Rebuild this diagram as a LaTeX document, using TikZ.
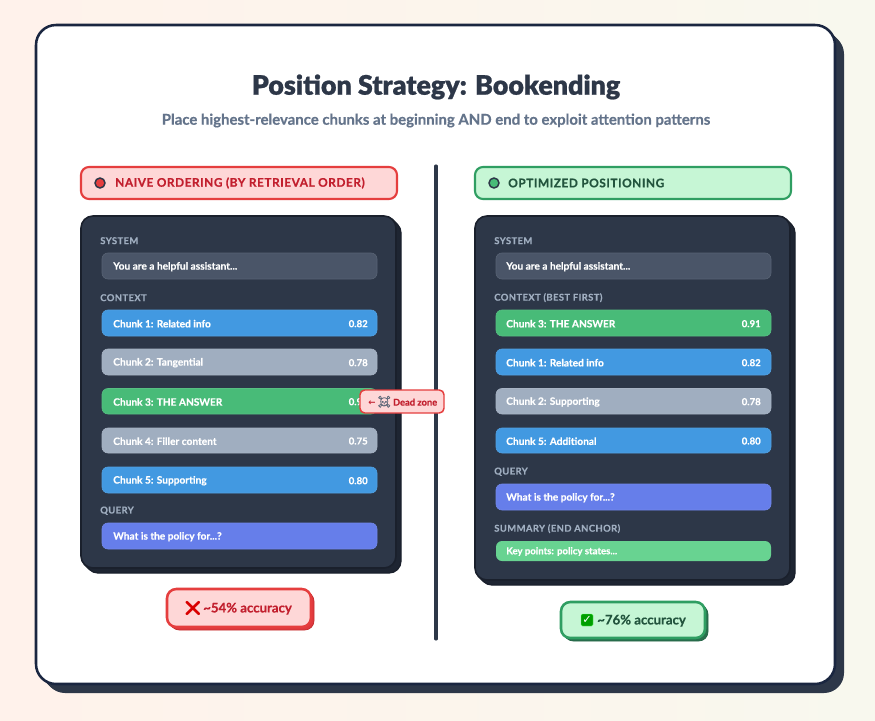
\documentclass[tikz,border=0pt]{standalone}
\usepackage{fontspec}
\setmainfont{Lato}
\newfontfamily\blackfont[FakeBold=0.8]{Lato Black}
\newfontfamily\heavyfont[FakeBold=0.45]{Lato Bold}
\newfontfamily\spacedfont[LetterSpace=4.5,FakeBold=0.6]{Lato Bold}
\newfontfamily\capsfont[LetterSpace=4,FakeBold=0.2]{Lato Bold}
\newfontfamily\emojifont{Noto Emoji}
\newfontfamily\skullfont[FakeBold=1]{Noto Emoji}
\newfontfamily\symfont{DejaVu Sans Bold}
\definecolor{ink}{HTML}{2D3748}
\definecolor{inkdark}{HTML}{1A202C}
\definecolor{cardedge}{HTML}{1A2640}
\definecolor{subgrey}{HTML}{64748B}
\definecolor{redfill}{HTML}{FED7D7}
\definecolor{redline}{HTML}{E53E3E}
\definecolor{redtext}{HTML}{C53030}
\definecolor{titlered}{HTML}{C21F2E}
\definecolor{redband}{HTML}{E0383E}
\definecolor{greenfill}{HTML}{C6F6D5}
\definecolor{greenline}{HTML}{2F9E62}
\definecolor{greendark}{HTML}{276749}
\definecolor{greentext}{HTML}{22543D}
\definecolor{rowsys}{HTML}{4A5568}
\definecolor{rowblue}{HTML}{4299E1}
\definecolor{rowgrey}{HTML}{A0AEC0}
\definecolor{rowgreen}{HTML}{48BB78}
\definecolor{rowindigo}{HTML}{667EEA}
\definecolor{rowmint}{HTML}{68D391}
\definecolor{bgleft}{HTML}{FFF2EB}
\definecolor{bgright}{HTML}{F8F8EE}
\definecolor{panelband}{HTML}{1E2532}
\tikzset{
  x=0.75pt,y=-0.75pt,
  boxbase/.style={inner sep=0pt,outer sep=0pt,rectangle},
  rowbox/.style={boxbase,rounded corners=4.5pt},
  rowtext/.style={inner sep=0pt,anchor=west,text=white,font=\fontsize{7.6}{9.6}\heavyfont},
  scoretext/.style={inner sep=0pt,anchor=east,text=white,font=\fontsize{7.2}{9}\heavyfont},
  seclabel/.style={inner sep=0pt,anchor=west,text=rowgrey,font=\fontsize{7.1}{9}\capsfont},
  badgetext/.style={inner sep=0pt,anchor=west,font=\fontsize{8.9}{11}\spacedfont},
  acctext/.style={inner sep=0pt,anchor=west,font=\fontsize{9.9}{12}\heavyfont},
  panelmain/.style={boxbase,fill=ink,draw=inkdark,line width=1.2pt,rounded corners=9pt},
  panelshadow/.style={boxbase,fill=panelband,draw=inkdark,line width=1pt,rounded corners=9pt},
}
% name, style, x1, y1, x2, y2 (pixels)
\newcommand{\bx}[6]{%
  \pgfmathsetmacro{\bw}{((#5)-(#3))*0.75}%
  \pgfmathsetmacro{\bh}{((#6)-(#4))*0.75}%
  \node[#2,minimum width=\bw pt,minimum height=\bh pt] (#1) at ({((#3)+(#5))/2},{((#4)+(#6))/2}) {};}
% stacked hard shadow: name, style, x1, y1, x2, y2, offset
\newcommand{\shadowstack}[7]{%
  \foreach \sk in {1,...,#7}{%
    \bx{#1\sk}{#2}{#3+\sk}{#4+\sk}{#5+\sk}{#6+\sk}}}
% name, x1, y1, y2, fill, text, textx
\newcommand{\rowb}[7]{%
  \bx{#1}{rowbox,fill=#5,draw=#5!92!white,line width=0.5pt}{#2}{#3}{#2+275}{#4}
  \node[rowtext] (#1t) at (#7,{(#3+#4)/2+0.7}) {#6};}
\newcommand{\score}[3]{\node[scoretext] (#1) at (#2) {#3};}
\begin{document}
\begin{tikzpicture}
\useasboundingbox (0,0) rectangle (875,721);
\shade[left color=bgleft,right color=bgright,middle color=bgleft!55!bgright] (0,0) rectangle (875,721);

% card
\shadowstack{cardshadow}{boxbase,fill=ink,rounded corners=15pt}{36}{25}{835}{684}{9}
\bx{card}{boxbase,fill=white,draw=cardedge,line width=1.9pt,rounded corners=15pt}{36}{25}{835}{684}

\node[inner sep=0pt,text=ink,font=\fontsize{20.1}{24}\blackfont] (title) at (436,87) {Position Strategy: Bookending};
\node[inner sep=0pt,text=subgrey,font=\fontsize{11.2}{13}\heavyfont] (subtitle) at (436,120.5) {Place highest-relevance chunks at beginning AND end to exploit attention patterns};

% divider
\coordinate (divtop) at (436,166);
\coordinate (divbot) at (436,639);
\draw[ink,line width=2.3pt,line cap=round] (divtop) -- (divbot);

% left header
\bx{lhead}{boxbase,fill=redfill,draw=redline,line width=1.6pt,rounded corners=6pt}{81}{167}{397}{199}
\node[circle,inner sep=0pt,minimum size=7.5pt,fill=redline,draw=ink,line width=1.1pt] (ldot) at (100,183) {};
\node[badgetext,text=titlered] (lheadt) at (115,183) {NAIVE ORDERING (BY RETRIEVAL ORDER)};

% left panel
\shadowstack{lpanels}{panelshadow}{81}{216}{396}{568}{5}
\bx{lpanel}{panelmain}{81}{216}{396}{568}
\node[seclabel] (lsys) at (100,240.7) {SYSTEM};
\rowb{ls}{102}{253}{279}{rowsys}{You are a helpful assistant...}{113}
\node[seclabel] (lctx) at (100,297.7) {CONTEXT};
\rowb{l1}{102}{310}{336}{rowblue}{Chunk 1: Related info}{113}
\score{l1s}{368,323.7}{0.82}
\rowb{l2}{102}{349}{375}{rowgrey}{Chunk 2: Tangential}{113}
\score{l2s}{368,362.7}{0.78}
\rowb{l3}{102}{388.5}{414}{rowgreen}{Chunk 3: THE ANSWER}{113}
\score{l3s}{368,401.7}{0.91}
\rowb{l4}{102}{428}{453}{rowgrey}{Chunk 4: Filler content}{113}
\score{l4s}{368,441}{0.75}
\rowb{l5}{102}{467}{493}{rowblue}{Chunk 5: Supporting}{113}
\score{l5s}{368,480.7}{0.80}
\node[seclabel] (lq) at (100,510.7) {QUERY};
\rowb{lqr}{102}{523}{549}{rowindigo}{What is the policy for...?}{113}

% dead zone
\bx{dead}{boxbase,fill=redfill,draw=redline,line width=1.1pt,rounded corners=3.5pt}{360}{390}{444}{413}
\node[inner sep=0pt,anchor=west,text=titlered,font=\fontsize{7}{9}\heavyfont] (deadt) at (368,401.7) {{\symfont\fontsize{6.5}{9}\selectfont ←}\,{\skullfont\color{rowsys!90}\fontsize{8.5}{9}\selectfont ☠}\,Dead zone};

% left accuracy
\shadowstack{laccs}{boxbase,fill=redband,draw=redtext,line width=0.6pt,rounded corners=7pt}{167}{589}{311}{627}{3}
\bx{lacc}{boxbase,fill=redfill,draw=redline,line width=1.9pt,rounded corners=7pt}{167}{589}{311}{627}
\node[inner sep=0pt,anchor=center,text=red!85!black,font=\fontsize{11}{12}\emojifont] (lacci) at (193,608.5) {❌};
\node[acctext,text=titlered] (lacct) at (203,608.7) {\textasciitilde 54\% accuracy};

% right header
\bx{rhead}{boxbase,fill=greenfill,draw=greenline,line width=1.6pt,rounded corners=6pt}{475}{167}{791}{199}
\node[circle,inner sep=0pt,minimum size=7.5pt,fill=rowgreen,draw=ink,line width=1.1pt] (rdot) at (494,183) {};
\node[badgetext,text=greentext] (rheadt) at (508,183) {OPTIMIZED POSITIONING};

% right panel
\shadowstack{rpanels}{panelshadow}{475}{216}{790}{580}{5}
\bx{rpanel}{panelmain}{475}{216}{790}{580}
\node[seclabel] (rsys) at (494,240.7) {SYSTEM};
\rowb{rs}{496}{253}{279}{rowsys}{You are a helpful assistant...}{506}
\node[seclabel] (rctx) at (494,297.7) {CONTEXT (BEST FIRST)};
\rowb{r1}{496}{310}{336}{rowgreen}{Chunk 3: THE ANSWER}{506}
\score{r1s}{761,323.7}{0.91}
\rowb{r2}{496}{349}{375}{rowblue}{Chunk 1: Related info}{506}
\score{r2s}{761,362.7}{0.82}
\rowb{r3}{496}{388.5}{414}{rowgrey}{Chunk 2: Supporting}{506}
\score{r3s}{761,401.7}{0.78}
\rowb{r4}{496}{428}{453}{rowblue}{Chunk 5: Additional}{506}
\score{r4s}{761,441}{0.80}
\node[seclabel] (rq) at (494,471.7) {QUERY};
\rowb{rqr}{496}{484}{510}{rowindigo}{What is the policy for...?}{506}
\node[seclabel] (rsum) at (494,528.7) {SUMMARY (END ANCHOR)};
\bx{rsumr}{rowbox,fill=rowmint}{496}{541}{771}{561}
\node[rowtext,font=\fontsize{7.2}{9}\heavyfont] (rsumt) at (506,551.5) {Key points: policy states...};

% right accuracy
\shadowstack{raccs}{boxbase,fill=greendark!85!greenline,draw=greendark,line width=0.6pt,rounded corners=7pt}{561}{602}{705}{638}{3}
\bx{racc}{boxbase,fill=greenfill,draw=greenline,line width=1.9pt,rounded corners=7pt}{561}{602}{705}{638}
\node[rectangle,rounded corners=1pt,fill=green!62!black,draw=green!60!white,line width=0.3pt,minimum size=9pt,inner sep=0pt,text=white,font=\fontsize{8.5}{9}\symfont] (racci) at (587,620) {✓};
\node[acctext,text=greentext] (racct) at (597,620.7) {\textasciitilde 76\% accuracy};
\end{tikzpicture}
\end{document}
